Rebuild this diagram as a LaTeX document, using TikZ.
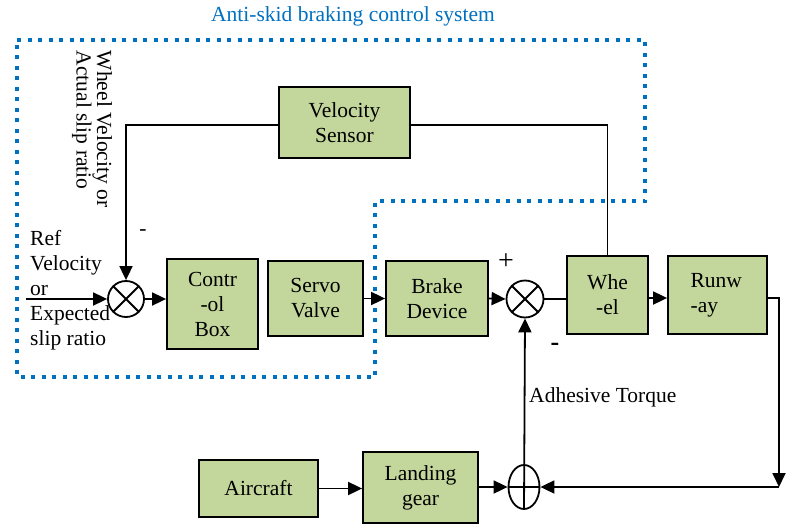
\documentclass[tikz,border=0pt]{standalone}
\usepackage{fontspec}
\setmainfont{Liberation Serif}
\usetikzlibrary{arrows.meta,shapes.geometric}
\definecolor{boxgreen}{RGB}{195,214,155}
\definecolor{sysblue}{RGB}{0,112,192}
\tikzset{
	lbl/.style={font=\fontsize{21.5}{25}\selectfont},
	block/.style={draw,line width=1.8pt,fill=boxgreen,inner sep=0pt,align=center,lbl},
	sumnode/.style={draw,circle,line width=1.8pt,fill=white,minimum size=36pt,inner sep=0pt},
	arr/.style={-{Triangle[length=14pt,width=13pt]}}
}

\begin{document}
\begin{tikzpicture}[x=1pt,y=-1pt,line width=1.8pt]
			\useasboundingbox (0,0) rectangle (793,525);
			
			% System boundary
			\draw[sysblue,line width=4pt,dash pattern=on 4pt off 6.5pt] (17,40) -- (645,40) -- (645,201) -- (375,201) -- (375,377) -- (17,377) -- cycle;
			\node[lbl,text=sysblue] (title) at (353,16) {Anti-skid braking control system};
			
			% Blocks
			\node[block,minimum width=131pt,minimum height=71pt] (sensor) at (344.5,122.5) {Velocity\\Sensor};
			\node[block,minimum width=91pt,minimum height=90pt] (ctrl) at (212.5,304) {Contr\\-ol\\Box};
			\node[block,minimum width=95pt,minimum height=75pt] (servo) at (315.5,298.5) {Servo\\Valve};
			\node[block,minimum width=102pt,minimum height=75pt] (brake) at (437,298.5) {Brake\\Device};
			\node[block,minimum width=81pt,minimum height=78pt] (wheel) at (607.5,295) {Whe\\-el};
			\node[block,minimum width=99pt,minimum height=78pt,align=left] (runway) at (717.5,295) {Runw\\-ay\hphantom{nw}};
			\node[block,minimum width=119pt,minimum height=57pt] (aircraft) at (258.5,488.5) {Aircraft};
			\node[block,minimum width=115pt,minimum height=71pt] (gear) at (420.5,487.5) {Landing\\gear};
			
			% Summing points
			\node[sumnode] (sum1) at (126,299) {};
			\node[sumnode,minimum size=37pt] (sum2) at (525,299) {};
			\node[draw,ellipse,fill=white,minimum width=31pt,minimum height=44pt,inner sep=0pt] (sum3) at (524,487) {};
			\draw (sum1.north west) -- (sum1.south east) (sum1.north east) -- (sum1.south west);
			\draw (sum2.north west) -- (sum2.south east) (sum2.north east) -- (sum2.south west);
			\draw (sum3.west) -- (sum3.east);
			
			% Connections
			\coordinate (in) at (26,299);
			\coordinate (rc) at (779,298);
			\coordinate (bc) at (779,487);
			\draw[arr] (sensor.west |- 0,125) -| (sum1.north);
			\draw (sensor.east |- 0,125) -| (wheel.north);
			\draw[arr] (in) -- (sum1.west);
			\draw[arr] (sum1.east) -- (sum1.east -| ctrl.west);
			\draw[arr] (servo.east) -- (brake.west);
			\draw[arr] (brake.east) -- (sum2.west);
			\draw (sum2.east) -- (sum2.east -| wheel.west);
			\draw[arr] (wheel.east |- rc) -- (wheel.east |- rc -| runway.west);
			\draw[arr] (rc -| runway.east) -- (rc) -- (bc);
			\draw[arr] (bc) -- (sum3.east);
			\draw[arr] (aircraft.east) -- (aircraft.east -| gear.west);
			\draw[arr] (gear.east |- sum3.west) -- (sum3.west);
			\draw[arr] (sum3.south) -- (sum2.south);
			
			% Labels
			\node[lbl,align=left,anchor=west] (ref) at (26,290) {Ref\\Velocity\\or\\Expected\\slip ratio};
			\node[rotate=-90,anchor=north west,align=left,inner sep=0pt,font=\fontsize{21.5}{20.5}\selectfont] (wvel) at (113,50) {Wheel Velocity or\\Actual slip ratio};
			\node[lbl] (m1) at (143,233) {-};
			\node[font=\fontsize{28}{28}\selectfont] (p2) at (506,262) {+};
			\node[font=\fontsize{26}{26}\selectfont\bfseries] (m2) at (555,347) {-};
			\node[lbl,anchor=west] (torque) at (525,397) {Adhesive Torque};
			
		\end{tikzpicture}
\end{document}
